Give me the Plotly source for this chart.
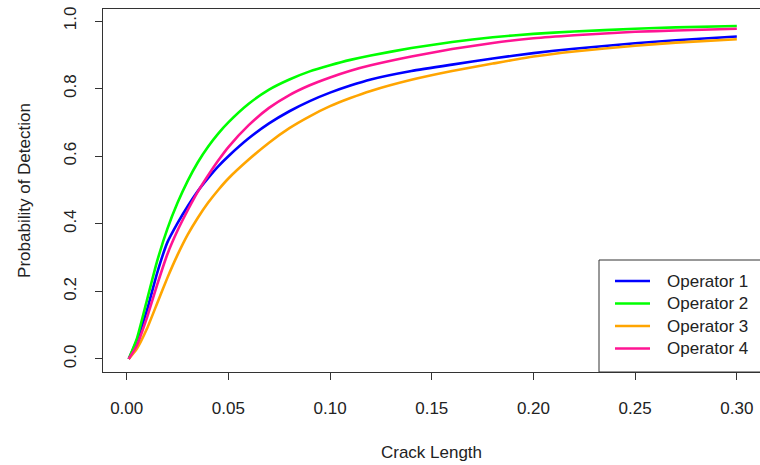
import plotly.graph_objects as go

# ---- data ----
crack_length = [0.001, 0.005, 0.01, 0.015, 0.02, 0.025, 0.03, 0.035, 0.04, 0.045,
                0.05, 0.06, 0.07, 0.08, 0.09, 0.10, 0.11, 0.12, 0.14, 0.16,
                0.18, 0.20, 0.22, 0.25, 0.27, 0.30]
operator_1 = [0, 0.055, 0.145, 0.255, 0.345, 0.402, 0.452, 0.497, 0.535, 0.57,
              0.60, 0.653, 0.697, 0.733, 0.763, 0.788, 0.809, 0.827, 0.852, 0.871,
              0.889, 0.905, 0.918, 0.934, 0.943, 0.954]
operator_2 = [0, 0.06, 0.175, 0.29, 0.385, 0.462, 0.527, 0.582, 0.628, 0.667,
              0.70, 0.755, 0.797, 0.827, 0.851, 0.869, 0.885, 0.898, 0.92, 0.938,
              0.952, 0.962, 0.969, 0.977, 0.981, 0.985]
operator_3 = [0, 0.03, 0.09, 0.165, 0.24, 0.308, 0.368, 0.418, 0.462, 0.50,
              0.534, 0.59, 0.64, 0.683, 0.718, 0.748, 0.772, 0.793, 0.826, 0.852,
              0.874, 0.895, 0.91, 0.927, 0.936, 0.946]
operator_4 = [0, 0.04, 0.123, 0.22, 0.31, 0.38, 0.44, 0.495, 0.543, 0.587,
              0.627, 0.692, 0.743, 0.781, 0.81, 0.833, 0.853, 0.869, 0.895, 0.917,
              0.935, 0.949, 0.958, 0.968, 0.972, 0.977]
series_names = ["Operator 1", "Operator 2", "Operator 3", "Operator 4"]
series_values = [operator_1, operator_2, operator_3, operator_4]
series_colors = ["#0000FF", "#00FF00", "#FFA500", "#FF1493"]
x_ticks = [0.00, 0.05, 0.10, 0.15, 0.20, 0.25, 0.30]
x_tick_labels = ["0.00", "0.05", "0.10", "0.15", "0.20", "0.25", "0.30"]
y_ticks = [0.0, 0.2, 0.4, 0.6, 0.8, 1.0]
y_tick_labels = ["0.0", "0.2", "0.4", "0.6", "0.8", "1.0"]

W, H = 760, 465
L, R, T, B = 103, 0, 9, 93
FONT = "Liberation Sans, Arial, sans-serif"
TXT = "#222222"
AX = "#333333"

fig = go.Figure()
for name, vals, col in zip(series_names, series_values, series_colors):
    fig.add_trace(go.Scatter(x=crack_length, y=vals, mode="lines", name=name,
                             line=dict(color=col, width=2.6, shape="spline", smoothing=0.5),
                             showlegend=False))

fig.update_layout(
    width=W, height=H,
    margin=dict(l=L, r=R, t=T, b=B, autoexpand=False),
    paper_bgcolor="white", plot_bgcolor="white",
    font=dict(family=FONT, size=17, color=TXT),
    xaxis=dict(range=[-0.01165, 0.3114], tickvals=x_ticks, ticktext=x_tick_labels,
               automargin=False,
               showgrid=False, zeroline=False, showline=True, mirror=True,
               linecolor=AX, linewidth=1, ticks="outside", ticklen=7, tickcolor=AX,
               ticklabelstandoff=14,
               title=dict(text="Crack Length", standoff=28, font=dict(size=17))),
    yaxis=dict(range=[-0.0385, 1.0355], tickvals=y_ticks, ticktext=y_tick_labels,
               tickangle=-90, automargin=False,
               showgrid=False, zeroline=False, showline=True, mirror=False,
               linecolor=AX, linewidth=1, ticks="outside", ticklen=7, tickcolor=AX,
               ticklabelstandoff=12,
               title=dict(text="Probability of Detection", standoff=26, font=dict(size=17))),
)

# ---- legend box (R style, drawn in plot-area paper coordinates) ----
pw, ph = W - L - R, H - T - B
def px_x(px):
    return (px - L) / pw
def px_y(py):
    return (H - B - py) / ph

fig.add_shape(type="rect", xref="paper", yref="paper",
              x0=px_x(599), x1=px_x(790), y0=px_y(372), y1=px_y(260),
              line=dict(color=AX, width=1), fillcolor="white", layer="above")
row_y = [281, 303.5, 326, 348.5]
for name, col, ry in zip(series_names, series_colors, row_y):
    fig.add_shape(type="line", xref="paper", yref="paper",
                  x0=px_x(615), x1=px_x(650), y0=px_y(ry), y1=px_y(ry),
                  line=dict(color=col, width=2.6), layer="above")
    fig.add_annotation(xref="paper", yref="paper", x=px_x(665), y=px_y(ry),
                       text=name, showarrow=False, xanchor="left", yanchor="middle",
                       font=dict(family=FONT, size=17, color=TXT))

fig.write_html("out.html", config={"displayModeBar": False},
               post_script="document.body.style.margin='0';document.body.style.overflow='hidden';")
